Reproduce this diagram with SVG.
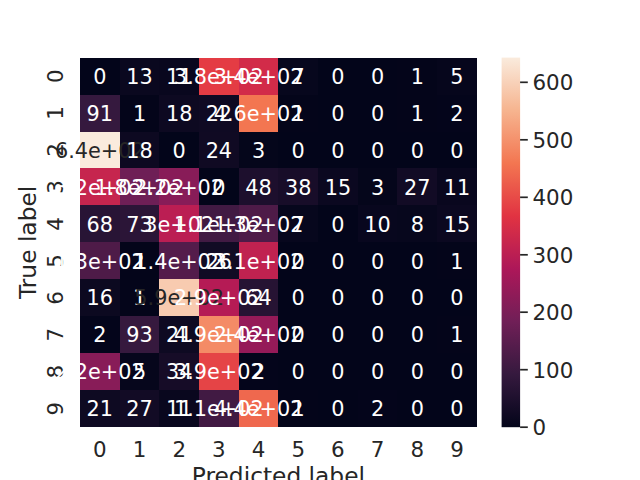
<svg xmlns="http://www.w3.org/2000/svg" width="640" height="480" viewBox="0 0 640 480">
<style>
text{font-family:"DejaVu Sans","Liberation Sans",sans-serif}
.a{font-size:20.8px;text-anchor:middle;fill:#ffffff}
.d{fill:#262626}
.t{font-size:21.4px;fill:#262626}
.tm{text-anchor:middle}
.lab{font-size:23.3px;fill:#262626;text-anchor:middle}
.tick{stroke:#262626;stroke-width:1.7}
</style>
<defs>
<linearGradient id="rocket" gradientUnits="userSpaceOnUse" x1="0" y1="427.2" x2="0" y2="57.6">
<stop offset="0" stop-color="#03051a"/>
<stop offset="0.1429" stop-color="#35193e"/>
<stop offset="0.2857" stop-color="#701f57"/>
<stop offset="0.4286" stop-color="#ad1759"/>
<stop offset="0.5714" stop-color="#e13342"/>
<stop offset="0.7143" stop-color="#f37651"/>
<stop offset="0.8571" stop-color="#f6b48f"/>
<stop offset="1" stop-color="#faebdd"/>
</linearGradient>
</defs>
<rect width="640" height="480" fill="#ffffff"/>
<g id="heatmap-cells" shape-rendering="crispEdges">
<rect x="80" y="57.6" width="396.8" height="369.6" fill="#03051a"/>
<!-- row 0 -->
<rect x="119.68" y="57.6" width="39.68" height="36.96" fill="#0a081f"/>
<rect x="159.36" y="57.6" width="39.68" height="36.96" fill="#09071e"/>
<rect x="199.04" y="57.6" width="39.68" height="36.96" fill="#e43c44"/>
<rect x="238.72" y="57.6" width="39.68" height="36.96" fill="#d22b49"/>
<rect x="278.4" y="57.6" width="39.68" height="36.96" fill="#07071d"/>
<rect x="397.44" y="57.6" width="39.68" height="36.96" fill="#04051a"/>
<rect x="437.12" y="57.6" width="39.68" height="36.96" fill="#06061c"/>
<!-- row 1 -->
<rect x="80" y="94.56" width="39.68" height="36.96" fill="#35193e"/>
<rect x="119.68" y="94.56" width="39.68" height="36.96" fill="#04051a"/>
<rect x="159.36" y="94.56" width="39.68" height="36.96" fill="#0d0921"/>
<rect x="199.04" y="94.56" width="39.68" height="36.96" fill="#0f0a23"/>
<rect x="238.72" y="94.56" width="39.68" height="36.96" fill="#f37651"/>
<rect x="278.4" y="94.56" width="39.68" height="36.96" fill="#04051a"/>
<rect x="397.44" y="94.56" width="39.68" height="36.96" fill="#04051a"/>
<rect x="437.12" y="94.56" width="39.68" height="36.96" fill="#04051b"/>
<!-- row 2 -->
<rect x="80" y="131.52" width="39.68" height="36.96" fill="#faebdd"/>
<rect x="119.68" y="131.52" width="39.68" height="36.96" fill="#0d0921"/>
<rect x="199.04" y="131.52" width="39.68" height="36.96" fill="#100a23"/>
<rect x="238.72" y="131.52" width="39.68" height="36.96" fill="#05061b"/>
<!-- row 3 -->
<rect x="80" y="168.48" width="39.68" height="36.96" fill="#c6254e"/>
<rect x="119.68" y="168.48" width="39.68" height="36.96" fill="#6e1f56"/>
<rect x="159.36" y="168.48" width="39.68" height="36.96" fill="#881c58"/>
<rect x="238.72" y="168.48" width="39.68" height="36.96" fill="#1d0f2d"/>
<rect x="278.4" y="168.48" width="39.68" height="36.96" fill="#180d29"/>
<rect x="318.08" y="168.48" width="39.68" height="36.96" fill="#0b0820"/>
<rect x="357.76" y="168.48" width="39.68" height="36.96" fill="#05061b"/>
<rect x="397.44" y="168.48" width="39.68" height="36.96" fill="#120b25"/>
<rect x="437.12" y="168.48" width="39.68" height="36.96" fill="#09071e"/>
<!-- row 4 -->
<rect x="80" y="205.44" width="39.68" height="36.96" fill="#281435"/>
<rect x="119.68" y="205.44" width="39.68" height="36.96" fill="#2b1537"/>
<rect x="159.36" y="205.44" width="39.68" height="36.96" fill="#bb1e53"/>
<rect x="199.04" y="205.44" width="39.68" height="36.96" fill="#411a43"/>
<rect x="238.72" y="205.44" width="39.68" height="36.96" fill="#4e1b48"/>
<rect x="278.4" y="205.44" width="39.68" height="36.96" fill="#07071d"/>
<rect x="357.76" y="205.44" width="39.68" height="36.96" fill="#08071e"/>
<rect x="397.44" y="205.44" width="39.68" height="36.96" fill="#07071d"/>
<rect x="437.12" y="205.44" width="39.68" height="36.96" fill="#0b0820"/>
<!-- row 5 -->
<rect x="80" y="242.4" width="39.68" height="36.96" fill="#4e1b48"/>
<rect x="119.68" y="242.4" width="39.68" height="36.96" fill="#04051a"/>
<rect x="159.36" y="242.4" width="39.68" height="36.96" fill="#541c4b"/>
<rect x="199.04" y="242.4" width="39.68" height="36.96" fill="#110b24"/>
<rect x="238.72" y="242.4" width="39.68" height="36.96" fill="#c02250"/>
<rect x="437.12" y="242.4" width="39.68" height="36.96" fill="#04051a"/>
<!-- row 6 -->
<rect x="80" y="279.36" width="39.68" height="36.96" fill="#0c0920"/>
<rect x="119.68" y="279.36" width="39.68" height="36.96" fill="#04051a"/>
<rect x="159.36" y="279.36" width="39.68" height="36.96" fill="#f8cbb0"/>
<rect x="199.04" y="279.36" width="39.68" height="36.96" fill="#b51b55"/>
<rect x="238.72" y="279.36" width="39.68" height="36.96" fill="#261333"/>
<!-- row 7 -->
<rect x="80" y="316.32" width="39.68" height="36.96" fill="#04051b"/>
<rect x="119.68" y="316.32" width="39.68" height="36.96" fill="#36193e"/>
<rect x="159.36" y="316.32" width="39.68" height="36.96" fill="#0e0a22"/>
<rect x="199.04" y="316.32" width="39.68" height="36.96" fill="#f48b66"/>
<rect x="238.72" y="316.32" width="39.68" height="36.96" fill="#951a58"/>
<rect x="437.12" y="316.32" width="39.68" height="36.96" fill="#04051a"/>
<!-- row 8 -->
<rect x="80" y="353.28" width="39.68" height="36.96" fill="#881c58"/>
<rect x="119.68" y="353.28" width="39.68" height="36.96" fill="#06061c"/>
<rect x="159.36" y="353.28" width="39.68" height="36.96" fill="#160c27"/>
<rect x="199.04" y="353.28" width="39.68" height="36.96" fill="#e54446"/>
<rect x="238.72" y="353.28" width="39.68" height="36.96" fill="#04051b"/>
<!-- row 9 -->
<rect x="80" y="390.24" width="39.68" height="36.96" fill="#0e0a22"/>
<rect x="119.68" y="390.24" width="39.68" height="36.96" fill="#120b25"/>
<rect x="159.36" y="390.24" width="39.68" height="36.96" fill="#09071e"/>
<rect x="199.04" y="390.24" width="39.68" height="36.96" fill="#411a43"/>
<rect x="238.72" y="390.24" width="39.68" height="36.96" fill="#ef684e"/>
<rect x="278.4" y="390.24" width="39.68" height="36.96" fill="#04051a"/>
<rect x="357.76" y="390.24" width="39.68" height="36.96" fill="#04051b"/>
</g>
<g id="x-tick-labels" class="t tm">
<text x="99.84" y="456.6">0</text><text x="139.52" y="456.6">1</text><text x="179.2" y="456.6">2</text><text x="218.88" y="456.6">3</text><text x="258.56" y="456.6">4</text><text x="298.24" y="456.6">5</text><text x="337.92" y="456.6">6</text><text x="377.6" y="456.6">7</text><text x="417.28" y="456.6">8</text><text x="456.96" y="456.6">9</text>
</g>
<g id="y-tick-labels" class="t tm">
<text x="63.3" y="76.08" transform="rotate(-90 63.3 76.08)">0</text>
<text x="63.3" y="113.04" transform="rotate(-90 63.3 113.04)">1</text>
<text x="63.3" y="150" transform="rotate(-90 63.3 150)">2</text>
<text x="63.3" y="186.96" transform="rotate(-90 63.3 186.96)">3</text>
<text x="63.3" y="223.92" transform="rotate(-90 63.3 223.92)">4</text>
<text x="63.3" y="260.88" transform="rotate(-90 63.3 260.88)">5</text>
<text x="63.3" y="297.84" transform="rotate(-90 63.3 297.84)">6</text>
<text x="63.3" y="334.8" transform="rotate(-90 63.3 334.8)">7</text>
<text x="63.3" y="371.76" transform="rotate(-90 63.3 371.76)">8</text>
<text x="63.3" y="408.72" transform="rotate(-90 63.3 408.72)">9</text>
</g>
<g id="axis-labels" class="lab">
<text x="278.4" y="484">Predicted label</text>
<text x="36" y="242.4" transform="rotate(-90 36 242.4)">True label</text>
</g>
<g id="annotations" class="a">
<!-- row 0 -->
<text x="99.84" y="83.7">0</text><text x="139.52" y="83.7">13</text><text x="179.2" y="83.7">11</text><text x="218.88" y="83.7">3.8e+02</text><text x="258.56" y="83.7">3.4e+02</text><text x="298.24" y="83.7">7</text><text x="337.92" y="83.7">0</text><text x="377.6" y="83.7">0</text><text x="417.28" y="83.7">1</text><text x="456.96" y="83.7">5</text>
<!-- row 1 -->
<text x="99.84" y="120.6">91</text><text x="139.52" y="120.6">1</text><text x="179.2" y="120.6">18</text><text x="218.88" y="120.6">22</text><text x="258.56" y="120.6">4.6e+02</text><text x="298.24" y="120.6">1</text><text x="337.92" y="120.6">0</text><text x="377.6" y="120.6">0</text><text x="417.28" y="120.6">1</text><text x="456.96" y="120.6">2</text>
<!-- row 2 -->
<text class="a d" x="99.84" y="157.6">6.4e+02</text><text x="139.52" y="157.6">18</text><text x="179.2" y="157.6">0</text><text x="218.88" y="157.6">24</text><text x="258.56" y="157.6">3</text><text x="298.24" y="157.6">0</text><text x="337.92" y="157.6">0</text><text x="377.6" y="157.6">0</text><text x="417.28" y="157.6">0</text><text x="456.96" y="157.6">0</text>
<!-- row 3 -->
<text x="99.84" y="194.6">3.2e+02</text><text x="139.52" y="194.6">1.8e+02</text><text x="179.2" y="194.6">2.2e+02</text><text x="218.88" y="194.6">0</text><text x="258.56" y="194.6">48</text><text x="298.24" y="194.6">38</text><text x="337.92" y="194.6">15</text><text x="377.6" y="194.6">3</text><text x="417.28" y="194.6">27</text><text x="456.96" y="194.6">11</text>
<!-- row 4 -->
<text x="99.84" y="231.5">68</text><text x="139.52" y="231.5">73</text><text x="179.2" y="231.5">3e+02</text><text x="218.88" y="231.5">1.1e+02</text><text x="258.56" y="231.5">1.3e+02</text><text x="298.24" y="231.5">7</text><text x="337.92" y="231.5">0</text><text x="377.6" y="231.5">10</text><text x="417.28" y="231.5">8</text><text x="456.96" y="231.5">15</text>
<!-- row 5 -->
<text x="99.84" y="268.5">1.3e+02</text><text x="139.52" y="268.5">1</text><text x="179.2" y="268.5">1.4e+02</text><text x="218.88" y="268.5">26</text><text x="258.56" y="268.5">3.1e+02</text><text x="298.24" y="268.5">0</text><text x="337.92" y="268.5">0</text><text x="377.6" y="268.5">0</text><text x="417.28" y="268.5">0</text><text x="456.96" y="268.5">1</text>
<!-- row 6 -->
<text x="99.84" y="305.4">16</text><text x="139.52" y="305.4">1</text><text class="a d" x="179.2" y="305.4">5.9e+02</text><text x="218.88" y="305.4">2.9e+02</text><text x="258.56" y="305.4">64</text><text x="298.24" y="305.4">0</text><text x="337.92" y="305.4">0</text><text x="377.6" y="305.4">0</text><text x="417.28" y="305.4">0</text><text x="456.96" y="305.4">0</text>
<!-- row 7 -->
<text x="99.84" y="342.4">2</text><text x="139.52" y="342.4">93</text><text x="179.2" y="342.4">21</text><text x="218.88" y="342.4">4.9e+02</text><text x="258.56" y="342.4">2.4e+02</text><text x="298.24" y="342.4">0</text><text x="337.92" y="342.4">0</text><text x="377.6" y="342.4">0</text><text x="417.28" y="342.4">0</text><text x="456.96" y="342.4">1</text>
<!-- row 8 -->
<text x="99.84" y="379.4">2.2e+02</text><text x="139.52" y="379.4">5</text><text x="179.2" y="379.4">34</text><text x="218.88" y="379.4">3.9e+02</text><text x="258.56" y="379.4">2</text><text x="298.24" y="379.4">0</text><text x="337.92" y="379.4">0</text><text x="377.6" y="379.4">0</text><text x="417.28" y="379.4">0</text><text x="456.96" y="379.4">0</text>
<!-- row 9 -->
<text x="99.84" y="416.3">21</text><text x="139.52" y="416.3">27</text><text x="179.2" y="416.3">11</text><text x="218.88" y="416.3">1.1e+02</text><text x="258.56" y="416.3">4.4e+02</text><text x="298.24" y="416.3">1</text><text x="337.92" y="416.3">0</text><text x="377.6" y="416.3">2</text><text x="417.28" y="416.3">0</text><text x="456.96" y="416.3">0</text>
</g>
<g id="colorbar">
<rect x="501.6" y="57.6" width="18.5" height="369.6" fill="url(#rocket)"/>
<g class="tick">
<line x1="520.1" y1="427.2" x2="527.8" y2="427.2"/>
<line x1="520.1" y1="369.7" x2="527.8" y2="369.7"/>
<line x1="520.1" y1="312.2" x2="527.8" y2="312.2"/>
<line x1="520.1" y1="254.8" x2="527.8" y2="254.8"/>
<line x1="520.1" y1="197.3" x2="527.8" y2="197.3"/>
<line x1="520.1" y1="139.8" x2="527.8" y2="139.8"/>
<line x1="520.1" y1="82.3" x2="527.8" y2="82.3"/>
</g>
<g class="t">
<text x="532.5" y="435">0</text>
<text x="532.5" y="377.5">100</text>
<text x="532.5" y="320">200</text>
<text x="532.5" y="262.6">300</text>
<text x="532.5" y="205.1">400</text>
<text x="532.5" y="147.6">500</text>
<text x="532.5" y="90.1">600</text>
</g>
</g>
</svg>
